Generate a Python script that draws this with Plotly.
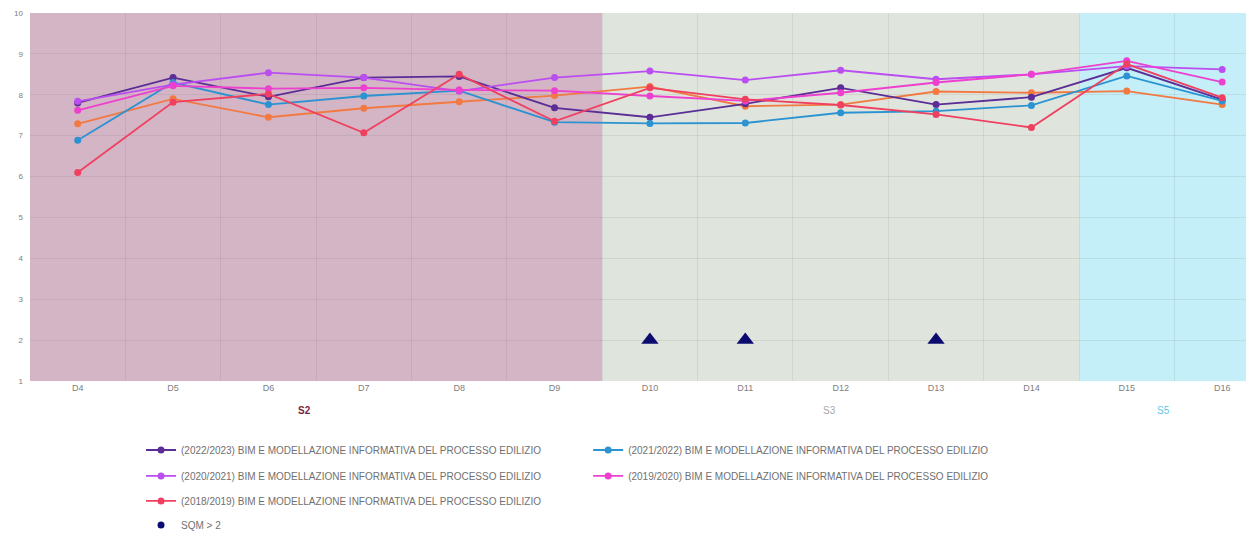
import plotly.graph_objects as go

categories = ["D4", "D5", "D6", "D7", "D8", "D9", "D10", "D11", "D12", "D13", "D14", "D15", "D16"]

s_2022 = [7.80, 8.42, 7.95, 8.42, 8.45, 7.68, 7.45, 7.78, 8.17, 7.76, 7.94, 8.66, 7.88]
s_2021 = [6.89, 8.30, 7.76, 7.97, 8.10, 7.33, 7.30, 7.31, 7.56, 7.60, 7.74, 8.46, 7.85]
s_2020 = [7.84, 8.25, 8.54, 8.42, 8.09, 8.42, 8.58, 8.36, 8.60, 8.38, 8.50, 8.70, 8.62]
s_2019 = [7.62, 8.22, 8.15, 8.17, 8.12, 8.10, 7.97, 7.85, 8.05, 8.30, 8.50, 8.83, 8.31]
s_2018 = [6.10, 7.82, 8.02, 7.07, 8.50, 7.35, 8.17, 7.89, 7.75, 7.52, 7.20, 8.75, 7.93]
s_other = [7.29, 7.90, 7.45, 7.67, 7.83, 7.98, 8.20, 7.72, 7.76, 8.08, 8.05, 8.09, 7.76]

series_names = [
    "(2022/2023) BIM E MODELLAZIONE INFORMATIVA DEL PROCESSO EDILIZIO",
    "(2021/2022) BIM E MODELLAZIONE INFORMATIVA DEL PROCESSO EDILIZIO",
    "(2020/2021) BIM E MODELLAZIONE INFORMATIVA DEL PROCESSO EDILIZIO",
    "(2019/2020) BIM E MODELLAZIONE INFORMATIVA DEL PROCESSO EDILIZIO",
    "(2018/2019) BIM E MODELLAZIONE INFORMATIVA DEL PROCESSO EDILIZIO",
]
series_values = [s_2022, s_2021, s_2020, s_2019, s_2018]
series_colors = ["#5b2d96", "#2b93d1", "#bb4ef0", "#ee40cf", "#f0405f"]
other_color = "#f27a42"

sqm_cats = ["D10", "D11", "D13"]
sqm_value = 2
sqm_name = "SQM > 2"

groups = [("S2", 0, 5, "#d3b5c5", "#7a1f3f"),
          ("S3", 6, 10, "#dfe5dd", "#a8a8a8"),
          ("S5", 11, 12, "#c4eef8", "#5cc6e6")]

# legend grid: (column x, row y) in paper coordinates
legend_cols = [0.0913, 0.459]
legend_rows = [-0.1875, -0.258, -0.326, -0.391]

fig = go.Figure()

fig.add_trace(go.Scatter(x=categories, y=s_other, mode="lines+markers",
                         line=dict(color=other_color, width=1.8),
                         marker=dict(size=7, color=other_color),
                         showlegend=False, name="other"))

legend_layout = {}
legend_font = dict(family="Arial", size=10, color="#707070")
for k, (name, vals, col) in enumerate(zip(series_names, series_values, series_colors)):
    lname = "legend" if k == 0 else "legend%d" % (k + 1)
    fig.add_trace(go.Scatter(x=categories, y=vals, mode="lines+markers", name=name,
                             line=dict(color=col, width=1.8),
                             marker=dict(size=7, color=col), legend=lname))
    legend_layout[lname] = dict(x=legend_cols[k % 2], y=legend_rows[k // 2],
                                xanchor="left", yanchor="middle", itemwidth=30,
                                font=legend_font, bgcolor="rgba(0,0,0,0)")

fig.add_trace(go.Scatter(x=sqm_cats, y=[sqm_value] * len(sqm_cats), mode="markers",
                         marker=dict(symbol="triangle-up", size=15, color="#0b0b70"),
                         showlegend=False, legendgroup="sqm", name=sqm_name))
fig.add_trace(go.Scatter(x=[None], y=[None], mode="markers", name=sqm_name,
                         marker=dict(symbol="circle", size=7, color="#0b0b70"),
                         legendgroup="sqm", legend="legend6"))
legend_layout["legend6"] = dict(x=legend_cols[0], y=legend_rows[3], xanchor="left",
                                yanchor="middle", itemwidth=30, font=legend_font,
                                bgcolor="rgba(0,0,0,0)")

for label, i0, i1, bg, fc in groups:
    fig.add_shape(type="rect", xref="x", yref="paper", x0=i0 - 0.5, x1=i1 + 0.5,
                  y0=0, y1=1, fillcolor=bg, line_width=0, layer="below")
    fig.add_annotation(x=(i0 + i1) / 2 - 0.12, y=-0.1, xref="x", yref="paper",
                       text=("<b>%s</b>" % label) if label == "S2" else label,
                       showarrow=False, font=dict(family="Arial", size=10, color=fc))

fig.update_layout(
    width=1246, height=540,
    margin=dict(l=30, r=0, t=13, b=159, autoexpand=False),
    paper_bgcolor="white", plot_bgcolor="white",
    font=dict(family="Arial", size=9, color="#777"),
    xaxis=dict(type="category", categoryorder="array", categoryarray=categories,
               range=[-0.5, 12.25], tickson="boundaries", showgrid=True,
               gridcolor="rgba(110,110,110,0.13)", ticks="", zeroline=False,
               tickfont=dict(size=9, color="#808080")),
    yaxis=dict(range=[1, 10], dtick=1, showgrid=True, gridcolor="rgba(110,110,110,0.13)",
               zeroline=False, tickfont=dict(size=8, color="#808080"), ticklabelstandoff=6),
    **legend_layout,
)

fig.write_html("out.html", config={"displayModeBar": False},
               post_script="document.body.style.margin='0';document.body.style.overflow='hidden';")
